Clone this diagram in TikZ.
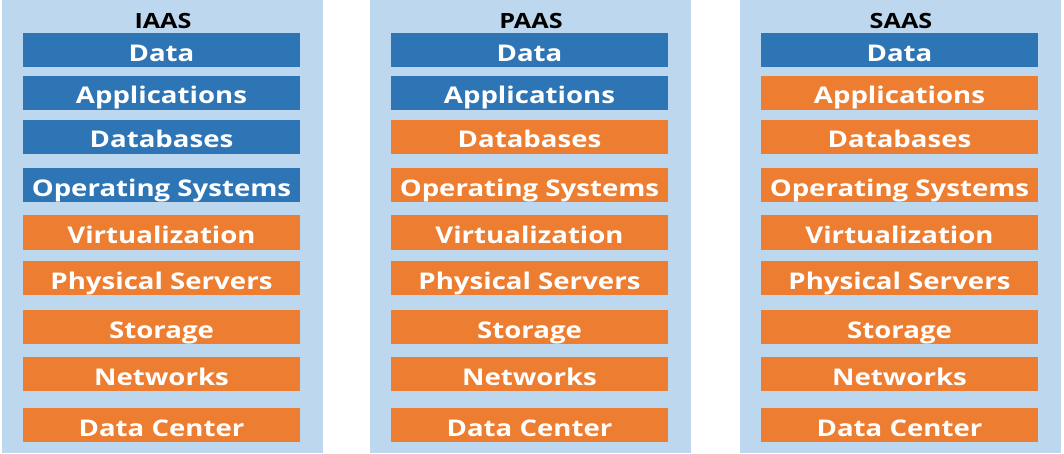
\documentclass[tikz,border=0pt]{standalone}
\usepackage{fontspec}
\setmainfont[FakeStretch=1.2]{Open Sans}
\usetikzlibrary{positioning}

\definecolor{panelblue}{HTML}{BDD7EE}
\definecolor{layerblue}{HTML}{2E75B6}
\definecolor{layerorange}{HTML}{ED7D31}

\begin{document}
\begin{tikzpicture}[x=1pt, y=-1pt,
    panel/.style={rectangle,
        fill=panelblue, % Column background.
        draw=none,
        inner sep=0pt,
        minimum width=321pt,
        minimum height=453pt},
    title/.style={inner sep=0pt,
        font=\bfseries\fontsize{21}{21}\selectfont},
    layer/.style={rectangle,
        draw=none,
        text=white,
        inner sep=0pt,
        text height=22pt, % Keeps the baseline a bit below the middle.
        text depth=0pt,
        minimum width=277pt,
        minimum height=34pt,
        font=\bfseries\fontsize{23}{23}\selectfont}]

    \useasboundingbox (0,0) rectangle (1064,454);

    % Columns: name / left edge / label / number of blue layers.
    \foreach \c/\x/\name/\nb in {iaas/2/IAAS/4, paas/370/PAAS/2, saas/740/SAAS/1} {
        \node[panel, anchor=north west] (\c) at (\x,0) {};
        \node[title] (\c-title) at (\x+161,21) {\name};

        % Layers, top to bottom.
        \foreach \y/\txt [count=\k] in {50.5/Data, 93/Applications, 137/Databases,
            185.5/Operating Systems, 232.5/Virtualization, 278/Physical Servers,
            327/Storage, 374/Networks, 425/Data Center} {
            \ifnum\k>\nb \def\col{layerorange}\else \def\col{layerblue}\fi
            \node[layer, fill=\col] (\c-\k) at (\x+159.5,\y) {\txt};
        }
    }
\end{tikzpicture}
\end{document}
